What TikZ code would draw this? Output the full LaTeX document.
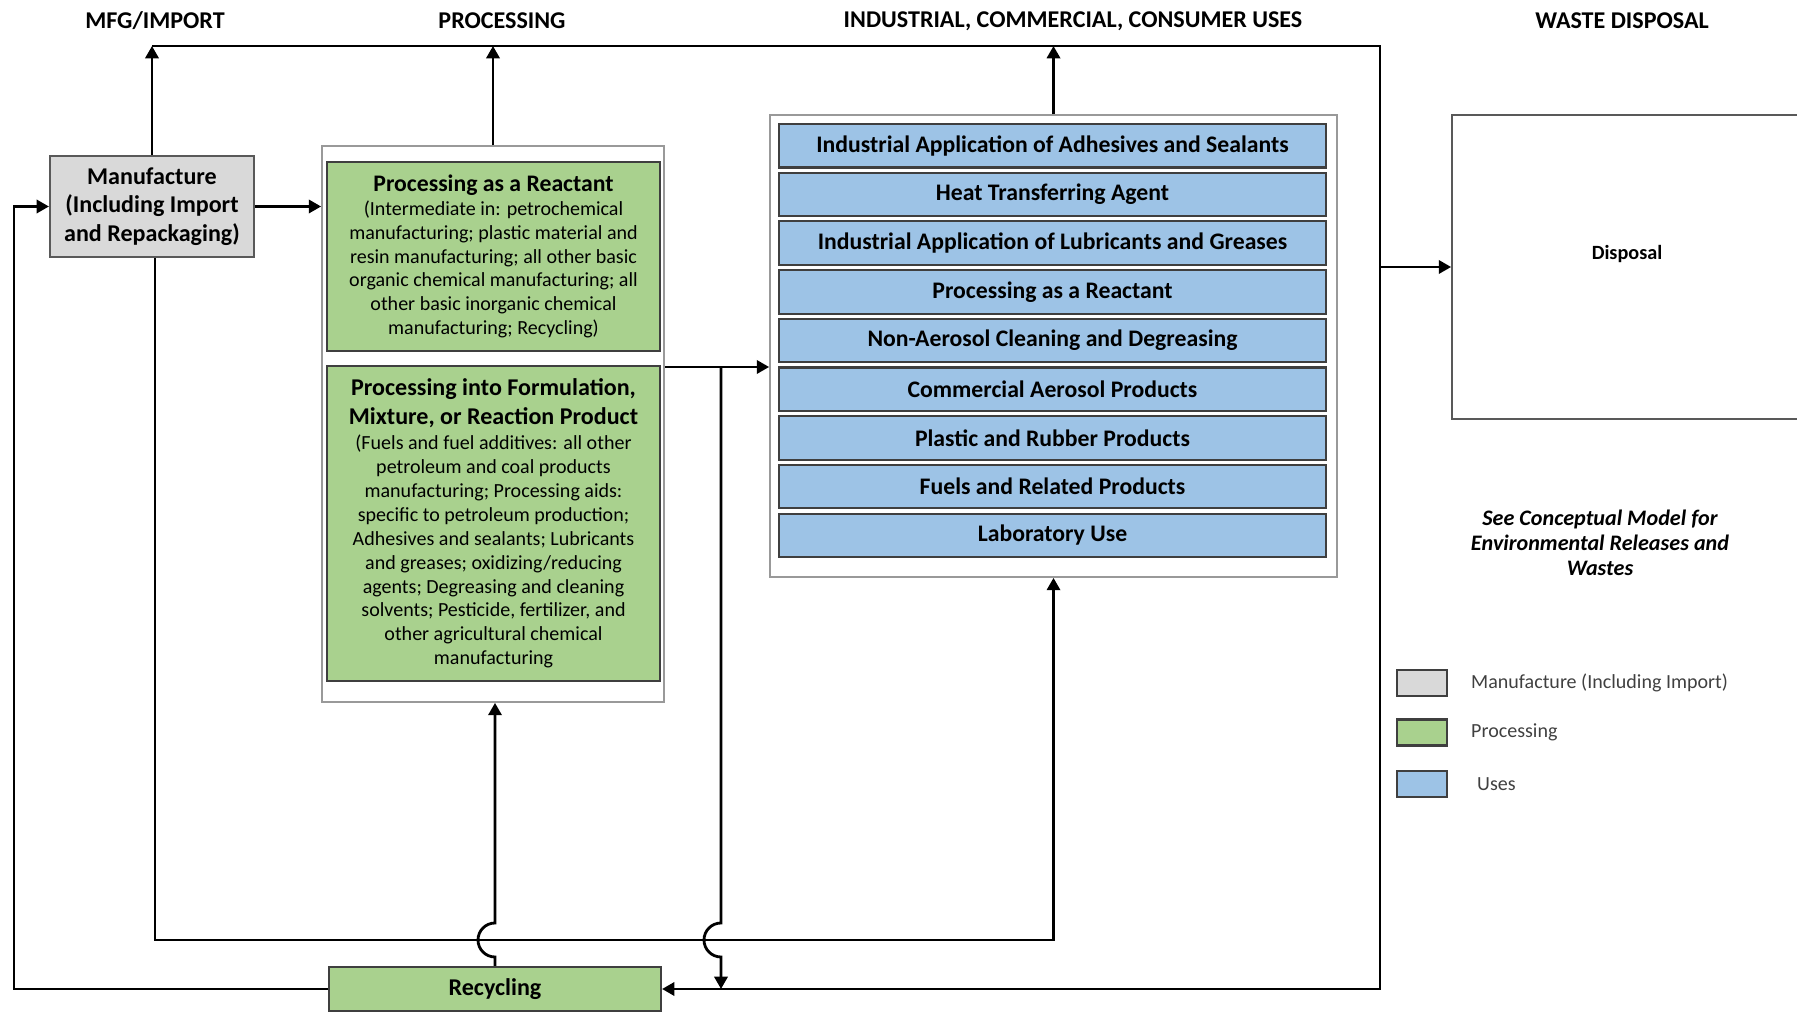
\documentclass[tikz,border=0pt]{standalone}
\usepackage{fontspec}
\setmainfont{Carlito}
\usepackage{tikz}
\usetikzlibrary{arrows.meta,positioning,calc}

\definecolor{procgreen}{HTML}{A9D18E}
\definecolor{useblue}{HTML}{9DC3E6}
\definecolor{mfggray}{HTML}{D9D9D9}
\definecolor{edgegray}{HTML}{3F3F3F}

\begin{document}
\begin{tikzpicture}[>={Triangle[length=7pt,width=7.5pt]},
  conn/.style={line width=1.6pt},
  outerbox/.style={draw=gray!80, line width=1pt, fill=white},
  mfgbox/.style={draw=gray!70!black, line width=1.2pt, fill=mfggray, align=center,
    minimum width=4.08cm, minimum height=2.02cm, font=\bfseries\fontsize{13.7}{16.3}\selectfont},
  procbx/.style={draw=edgegray, line width=1.2pt, fill=procgreen, align=center,
    minimum width=6.66cm, font=\fontsize{11.4}{13.6}\selectfont},
  usebx/.style={draw=edgegray, line width=1.2pt, fill=useblue, minimum width=10.94cm,
    minimum height=0.87cm, font=\bfseries\fontsize{13.5}{15}\selectfont},
  header/.style={font=\bfseries\fontsize{13.7}{15}\selectfont},
  legbox/.style={draw=edgegray, line width=1.2pt, minimum width=1.0cm, minimum height=0.52cm},
  legtext/.style={right, text=black!75, font=\fontsize{11.4}{13}\selectfont}]

\useasboundingbox (0,0) rectangle (35.94,20.26);

% headers
\node[header] (hmfg) at (3.10,19.84) {MFG/IMPORT};
\node[header] (hproc) at (10.04,19.84) {PROCESSING};
\node[header] (huse) at (21.46,19.84) {INDUSTRIAL, COMMERCIAL, CONSUMER USES};
\node[header] (hwaste) at (32.44,19.84) {WASTE DISPOSAL};

% manufacture
\node[mfgbox] (mfg) at (3.04,16.13) {Manufacture\\(Including Import\\and Repackaging)};

% processing boxes
\node[outerbox, minimum width=6.84cm, minimum height=11.12cm] (procbox) at (9.86,11.78) {};
\node[procbx, minimum height=3.78cm] (react) at (9.87,15.13)
  {{\bfseries\fontsize{13.5}{14.5}\selectfont Processing as a Reactant}\\
   (Intermediate in: petrochemical\\ manufacturing; plastic material and\\
   resin manufacturing; all other basic\\ organic chemical manufacturing; all\\
   other basic inorganic chemical\\ manufacturing; Recycling)};
\node[procbx, minimum height=6.30cm] (formul) at (9.87,9.79)
  {{\bfseries\fontsize{13.7}{15.6}\selectfont Processing into Formulation,}\\[2.5pt]
   {\bfseries\fontsize{13.7}{15.6}\selectfont Mixture, or Reaction Product}\\[1pt]
   (Fuels and fuel additives: all other\\ petroleum and coal products\\
   manufacturing; Processing aids:\\ specific to petroleum production;\\
   Adhesives and sealants; Lubricants\\ and greases; oxidizing/reducing\\
   agents; Degreasing and cleaning\\ solvents; Pesticide, fertilizer, and\\
   other agricultural chemical\\ manufacturing};

% recycling
\node[procbx, minimum width=6.64cm, minimum height=0.88cm,
  font=\bfseries\fontsize{13.7}{15}\selectfont] (recyc) at (9.90,0.48) {Recycling};

% uses
\node[outerbox, minimum width=11.34cm, minimum height=9.24cm] (usebox) at (21.07,13.34) {};
\foreach \lbl [count=\i] in {Industrial Application of Adhesives and Sealants,
  Heat Transferring Agent, Industrial Application of Lubricants and Greases,
  Processing as a Reactant, Non-Aerosol Cleaning and Degreasing,
  Commercial Aerosol Products, Plastic and Rubber Products,
  Fuels and Related Products, Laboratory Use}
  \node[usebx] (use\i) at (21.05,18.319-0.974*\i) {\lbl};

% disposal
\node[draw=gray!70!black, line width=1pt, minimum width=7.0cm, minimum height=6.08cm,
  label={[font=\bfseries\fontsize{11.5}{13}\selectfont, yshift=0.26cm]center:Disposal}]
  (disp) at (32.54,14.92) {};

\node[font=\bfseries\itshape\fontsize{12.6}{14.2}\selectfont, align=center] (note) at (32.00,9.40)
  {See Conceptual Model for\\Environmental Releases and\\Wastes};

% legend
\node[legbox, fill=mfggray] (lmfg) at (28.44,6.60) {};
\node[legbox, fill=procgreen] (lproc) at (28.44,5.61) {};
\node[legbox, fill=useblue] (luse) at (28.44,4.58) {};
\node[legtext] at (29.30,6.60) {Manufacture (Including Import)};
\node[legtext] at (29.30,5.61) {Processing};
\node[legtext] at (29.42,4.58) {Uses};

% routing points
\coordinate (tr) at (27.60,19.34);
\coordinate (lx) at (0.28,0);
\coordinate (low) at (0,1.46);
\coordinate (split) at (14.42,12.92);

% top line and return to recycling
\draw[conn,->] (mfg.north |- tr) -- (tr) -- (tr |- recyc.east) -- (recyc.east);
\draw[conn,->] (mfg.north) -- (mfg.north |- tr);
\draw[conn,->] (procbox.north) -- (procbox.north |- tr);
\draw[conn,->] (usebox.north) -- (usebox.north |- tr);
\draw[conn,->] (tr |- disp.west) -- (disp.west);

% manufacture to processing and uses
\draw[conn,->] (mfg.east) -- (mfg.east -| procbox.west);
\draw[conn,->] ([xshift=0.06cm]mfg.south) -- ([xshift=0.06cm]mfg.south |- low)
  -- (usebox.south |- low) -- (usebox.south);

% processing to uses and recycling
\draw[conn,->] (split -| procbox.east) -- (split -| usebox.west);
\draw[conn,->] (split) -- ($(split |- low)+(0,0.34)$) arc[start angle=90,end angle=270,radius=0.34]
  -- (split |- recyc.east);

% recycling loops
\draw[conn,->] (recyc.north) -- ($(recyc.north |- low)+(0,-0.34)$)
  arc[start angle=-90,end angle=-270,radius=0.34] -- (recyc.north |- procbox.south);
\draw[conn,->] (recyc.west) -- (recyc.west -| lx) -- (mfg.west -| lx) -- (mfg.west);

\end{tikzpicture}
\end{document}
